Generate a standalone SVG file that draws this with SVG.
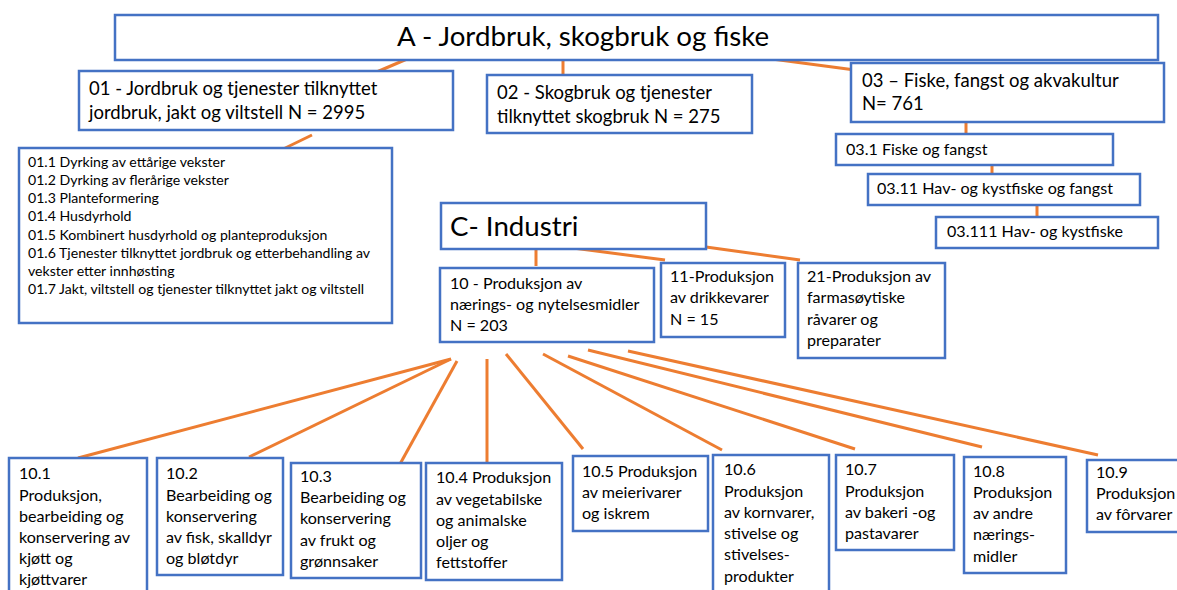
<svg xmlns="http://www.w3.org/2000/svg" width="1177" height="590" viewBox="0 0 1177 590">
<style>
.box{fill:#fff;stroke:#4472C4;stroke-width:2.5}
.t{font-family:Lato,"Liberation Sans",sans-serif;fill:#000}
.xl{font-size:27.7px}
.l{font-size:18.5px}
.m{font-size:16.1px}
.s{font-size:14.1px}
#connectors line{stroke:#ED7D31;stroke-width:3;stroke-linecap:butt}
</style>
<rect width="1177" height="590" fill="#fff"/>
<g id="connectors">
<line x1="407" y1="59" x2="372" y2="74"/>
<line x1="563" y1="60" x2="563" y2="75"/>
<line x1="772" y1="59" x2="855" y2="70"/>
<line x1="312" y1="135" x2="277" y2="152"/>
<line x1="966" y1="118" x2="966" y2="134"/>
<line x1="992" y1="159" x2="992" y2="174"/>
<line x1="1037" y1="201" x2="1037" y2="217"/>
<line x1="536" y1="250" x2="536" y2="266"/>
<line x1="573" y1="248" x2="665" y2="260"/>
<line x1="706" y1="247" x2="800" y2="260"/>
<line x1="451" y1="359" x2="78" y2="458"/>
<line x1="451" y1="359" x2="249" y2="457"/>
<line x1="457" y1="361" x2="400" y2="464"/>
<line x1="487" y1="359" x2="487" y2="462"/>
<line x1="506" y1="354" x2="583" y2="449"/>
<line x1="543" y1="354" x2="722" y2="450"/>
<line x1="568" y1="356" x2="855" y2="449"/>
<line x1="588" y1="350" x2="982" y2="447"/>
<line x1="628" y1="351" x2="1098" y2="455"/>
</g>
<g id="nA"><rect class="box" x="115" y="15" width="1043" height="45"/><text class="t xl" x="397" y="46">A - Jordbruk, skogbruk og fiske</text></g>
<g id="n01"><rect class="box" x="79" y="71" width="374" height="59"/><text class="t l" x="89" y="95">01 - Jordbruk og tjenester tilknyttet</text><text class="t l" x="89" y="119">jordbruk, jakt og viltstell N = 2995</text></g>
<g id="n02"><rect class="box" x="487" y="75" width="265" height="58"/><text class="t l" x="497" y="99">02 - Skogbruk og tjenester</text><text class="t l" x="497" y="123">tilknyttet skogbruk N = 275</text></g>
<g id="n03"><rect class="box" x="851" y="63" width="313" height="59"/><text class="t l" x="862" y="87">03 – Fiske, fangst og akvakultur</text><text class="t l" x="862" y="110">N= 761</text></g>
<g id="n031"><rect class="box" x="836" y="134" width="277" height="31"/><text class="t m" x="846" y="155">03.1 Fiske og fangst</text></g>
<g id="n0311"><rect class="box" x="868" y="174" width="272" height="31"/><text class="t m" x="877" y="194">03.11 Hav- og kystfiske og fangst</text></g>
<g id="n03111"><rect class="box" x="936" y="217" width="222" height="31"/><text class="t m" x="947" y="237">03.111 Hav- og kystfiske</text></g>
<g id="n01list"><rect class="box" x="19" y="148" width="373" height="175"/>
<text class="t s" x="28" y="167">01.1 Dyrking av ettårige vekster</text>
<text class="t s" x="28" y="185">01.2 Dyrking av flerårige vekster</text>
<text class="t s" x="28" y="203">01.3 Planteformering</text>
<text class="t s" x="28" y="221">01.4 Husdyrhold</text>
<text class="t s" x="28" y="240">01.5 Kombinert husdyrhold og planteproduksjon</text>
<text class="t s" x="28" y="258">01.6 Tjenester tilknyttet jordbruk og etterbehandling av</text>
<text class="t s" x="28" y="276">vekster etter innhøsting</text>
<text class="t s" x="28" y="294">01.7 Jakt, viltstell og tjenester tilknyttet jakt og viltstell</text>
</g>
<g id="nC"><rect class="box" x="441" y="203" width="265" height="46"/><text class="t xl" x="450" y="236">C- Industri</text></g>
<g id="n10"><rect class="box" x="440" y="268" width="214" height="74"/><text class="t m" x="450" y="289">10 - Produksjon av</text><text class="t m" x="450" y="310">nærings- og nytelsesmidler</text><text class="t m" x="450" y="331">N = 203</text></g>
<g id="n11"><rect class="box" x="661" y="263" width="124" height="74"/><text class="t m" x="670" y="282">11-Produksjon</text><text class="t m" x="670" y="303">av drikkevarer</text><text class="t m" x="670" y="325">N = 15</text></g>
<g id="n21"><rect class="box" x="798" y="263" width="147" height="95"/><text class="t m" x="807" y="282">21-Produksjon av</text><text class="t m" x="807" y="303">farmasøytiske</text><text class="t m" x="807" y="325">råvarer og</text><text class="t m" x="807" y="346">preparater</text></g>
<g id="n101"><rect class="box" x="9" y="458" width="138" height="140"/><text class="t m" x="19" y="479">10.1</text><text class="t m" x="19" y="501">Produksjon,</text><text class="t m" x="19" y="522">bearbeiding og</text><text class="t m" x="19" y="543">konservering av</text><text class="t m" x="19" y="564">kjøtt og</text><text class="t m" x="19" y="585">kjøttvarer</text></g>
<g id="n102"><rect class="box" x="157" y="458" width="126" height="117"/><text class="t m" x="166" y="479">10.2</text><text class="t m" x="166" y="501">Bearbeiding og</text><text class="t m" x="166" y="522">konservering</text><text class="t m" x="166" y="543">av fisk, skalldyr</text><text class="t m" x="166" y="564">og bløtdyr</text></g>
<g id="n103"><rect class="box" x="291" y="463" width="130" height="115"/><text class="t m" x="300" y="482">10.3</text><text class="t m" x="300" y="503">Bearbeiding og</text><text class="t m" x="300" y="524">konservering</text><text class="t m" x="300" y="546">av frukt og</text><text class="t m" x="300" y="567">grønnsaker</text></g>
<g id="n104"><rect class="box" x="426" y="463" width="136" height="117"/><text class="t m" x="436" y="483">10.4 Produksjon</text><text class="t m" x="436" y="505">av vegetabilske</text><text class="t m" x="436" y="526">og animalske</text><text class="t m" x="436" y="547">oljer og</text><text class="t m" x="436" y="568">fettstoffer</text></g>
<g id="n105"><rect class="box" x="573" y="456" width="135" height="75"/><text class="t m" x="582" y="477">10.5 Produksjon</text><text class="t m" x="582" y="498">av meierivarer</text><text class="t m" x="582" y="519">og iskrem</text></g>
<g id="n106"><rect class="box" x="713" y="455" width="116" height="145"/><text class="t m" x="724" y="475">10.6</text><text class="t m" x="724" y="497">Produksjon</text><text class="t m" x="724" y="518">av kornvarer,</text><text class="t m" x="724" y="539">stivelse og</text><text class="t m" x="724" y="560">stivelses-</text><text class="t m" x="724" y="582">produkter</text></g>
<g id="n107"><rect class="box" x="836" y="455" width="118" height="95"/><text class="t m" x="845" y="475">10.7</text><text class="t m" x="845" y="497">Produksjon</text><text class="t m" x="845" y="518">av bakeri -og</text><text class="t m" x="845" y="539">pastavarer</text></g>
<g id="n108"><rect class="box" x="964" y="457" width="102" height="116"/><text class="t m" x="973" y="477">10.8</text><text class="t m" x="973" y="498">Produksjon</text><text class="t m" x="973" y="519">av andre</text><text class="t m" x="973" y="540">nærings-</text><text class="t m" x="973" y="562">midler</text></g>
<g id="n109"><rect class="box" x="1087" y="460" width="100" height="72"/><text class="t m" x="1096" y="478">10.9</text><text class="t m" x="1096" y="499">Produksjon</text><text class="t m" x="1096" y="520">av fôrvarer</text></g>
</svg>
